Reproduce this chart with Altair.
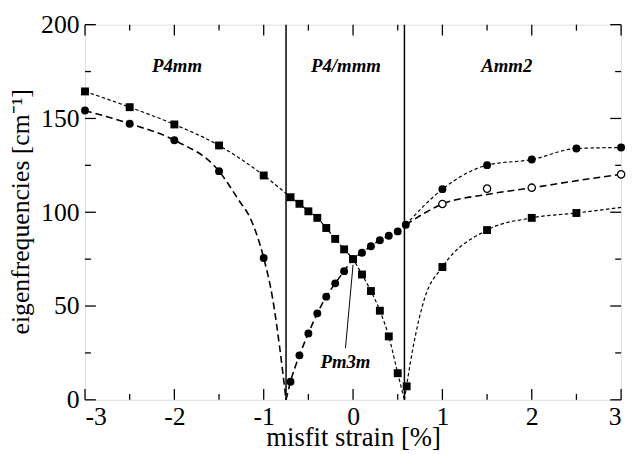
import altair as alt
import pandas as pd

# ---- marker data ----
sq_x = [-3, -2.5, -2, -1.5, -1, -0.7, -0.6, -0.5, -0.4, -0.3, -0.2, -0.1, 0,
        0.1, 0.2, 0.3, 0.4, 0.5, 0.6, 1, 1.5, 2, 2.5]
sq_y = [164.4, 156, 146.8, 135.6, 119.6, 108, 104.5, 100.5, 97, 91.6, 85.8, 80.2, 75,
        66.8, 58, 47.5, 33.8, 14.2, 7.2, 70.8, 90.5, 97, 99.6]
ci_x = [-3, -2.5, -2, -1.5, -1, -0.7, -0.6, -0.5, -0.4, -0.3, -0.2, -0.1, 0,
        0.1, 0.2, 0.3, 0.4, 0.5, 0.59, 1, 1.5, 2, 2.5, 3]
ci_y = [154.2, 147.2, 138.4, 121.9, 75.6, 9.6, 23.7, 35.4, 46.1, 55, 62.1, 68.6, 75,
        78.4, 81.9, 85.1, 87.5, 89.8, 93.3, 112.3, 125.1, 128.1, 134, 134.5]
oc_x = [1, 1.5, 2, 3]
oc_y = [104.4, 112.6, 113.1, 120.2]

# ---- fitted (dashed) curves ----
fineA_x = [-3, -2.5, -2, -1.5, -1, -0.75, -0.7, -0.6, -0.5, -0.4, -0.3, -0.2, -0.1, 0,
           0.1, 0.2, 0.3, 0.4, 0.5, 0.575]
fineA_y = [164.4, 156, 146.8, 135.6, 119.6, 110, 108, 104.5, 100.5, 97, 91.6, 85.8, 80.2, 75,
           66.8, 58, 47.5, 33.8, 14.2, 0]
fineB_x = [0.575, 0.67, 0.8, 1, 1.5, 2, 2.5, 3]
fineB_y = [0, 27.5, 54, 70.8, 90.5, 97, 99.6, 102.6]
fineE_x = [0.59, 1, 1.5, 2, 2.5, 3]
fineE_y = [93.3, 112.3, 125.1, 128.1, 134, 134.5]
longC_x = [-3, -2.5, -2, -1.5, -1.28, -1.15, -1, -0.9, -0.82, -0.75]
longC_y = [154.2, 147.2, 138.4, 121.9, 106.5, 96.8, 75.6, 54, 27.5, 0]
longD_x = [-0.75, -0.7, -0.6, -0.5, -0.4, -0.3, -0.2, -0.1, 0, 0.1, 0.2, 0.3, 0.4, 0.5, 0.59]
longD_y = [0, 9.6, 23.7, 35.4, 46.1, 55, 62.1, 68.6, 75, 78.4, 81.9, 85.1, 87.5, 89.8, 93.3]
longF_x = [0.59, 1, 1.5, 2, 2.5, 3]
longF_y = [93.3, 104.4, 109.5, 113, 116.8, 120.2]

phase_x = [-0.75, 0.575]
region_labels = ["P4mm", "P4/mmm", "Amm2"]
region_x = [-1.97, -0.08, 1.72]
region_y = [175, 175, 175]
pm_label = "Pm3m"
pm_x, pm_y = -0.085, 17
pointer_x, pointer_y, pointer_x2, pointer_y2 = 0, 72, -0.085, 27.5

x_major = [-3, -2, -1, 0, 1, 2, 3]
x_minor = [-2.5, -1.5, -0.5, 0.5, 1.5, 2.5]
y_major = [0, 50, 100, 150, 200]
y_minor = [25, 75, 125, 175]

W, H = 543, 380
FONT = "Liberation Serif"

xs = alt.Scale(domain=[-3, 3], nice=False, zero=False)
ys = alt.Scale(domain=[0, 200], nice=False, zero=False)

x_axis = alt.Axis(values=x_major, ticks=False, domain=False, grid=False,
                  labelFontSize=26, labelPadding=4, labelColor="black", labelFont=FONT,
                  labelExpr="datum.value < 0 ? '-' + abs(datum.value) : '' + datum.value",
                  title="misfit strain [%]", titleFontSize=27, titleFontWeight="normal",
                  titleFont=FONT, titleColor="black", titleY=46, titleBaseline="alphabetic")
y_axis = alt.Axis(values=y_major, ticks=False, domain=False, grid=False,
                  labelFontSize=26, labelPadding=6, labelColor="black", labelFont=FONT,
                  title="eigenfrequencies [cm⁻¹]", titleFontSize=26, titleFontWeight="normal",
                  titleFont=FONT, titleColor="black", titleX=-57, titleY=189,
                  titleBaseline="alphabetic")


def X(field="x"):
    return alt.X(f"{field}:Q", scale=xs, axis=x_axis)


def Y(field="y"):
    return alt.Y(f"{field}:Q", scale=ys, axis=y_axis)


def df(xv, yv):
    return pd.DataFrame({"x": xv, "y": yv})


def curve(xv, yv, dash, width):
    return alt.Chart(df(xv, yv)).mark_line(
        interpolate="monotone", color="black", strokeDash=dash, strokeWidth=width
    ).encode(x=X(), y=Y())


fine = [3.5, 2.5]
long = [7, 4]
layers = [
    curve(fineA_x, fineA_y, fine, 1.2),
    curve(fineB_x, fineB_y, fine, 1.2),
    curve(fineE_x, fineE_y, fine, 1.2),
    curve(longC_x, longC_y, long, 1.6),
    curve(longD_x, longD_y, long, 1.6),
    curve(longF_x, longF_y, long, 1.6),
]

# phase boundaries
layers.append(alt.Chart(pd.DataFrame({"x": phase_x})).mark_rule(color="black", strokeWidth=1.5)
              .encode(x=X(), y=alt.value(0), y2=alt.value(H)))

# Pm3m pointer
layers.append(alt.Chart(pd.DataFrame({"x": [pointer_x], "y": [pointer_y],
                                      "x2": [pointer_x2], "y2": [pointer_y2]}))
              .mark_rule(color="black", strokeWidth=1)
              .encode(x=X(), y=Y(), x2="x2:Q", y2="y2:Q"))

# markers
layers.append(alt.Chart(df(sq_x, sq_y)).mark_point(shape="square", filled=True, color="black",
                                                   size=64, opacity=1).encode(x=X(), y=Y()))
layers.append(alt.Chart(df(ci_x, ci_y)).mark_point(shape="circle", filled=True, color="black",
                                                   size=64, opacity=1).encode(x=X(), y=Y()))
layers.append(alt.Chart(df(oc_x, oc_y)).mark_point(shape="circle", filled=True, fill="white",
                                                   stroke="black", strokeWidth=1.3,
                                                   size=55, opacity=1).encode(x=X(), y=Y()))

# labels
lab_df = pd.DataFrame({"x": region_x, "y": region_y, "t": region_labels})
layers.append(alt.Chart(lab_df).mark_text(font=FONT, fontSize=19, fontWeight="bold",
                                          fontStyle="italic", color="black",
                                          baseline="alphabetic", align="center")
              .encode(x=X(), y=Y(), text="t:N"))
layers.append(alt.Chart(pd.DataFrame({"x": [pm_x], "y": [pm_y], "t": [pm_label]}))
              .mark_text(font=FONT, fontSize=19, fontWeight="bold", fontStyle="italic",
                         color="black", baseline="alphabetic", align="center")
              .encode(x=X(), y=Y(), text="t:N"))

# inward ticks on all four sides
MAJ, MIN = 11, 6
for vals, ln in ((x_major, MAJ), (x_minor, MIN)):
    d = pd.DataFrame({"x": vals})
    layers.append(alt.Chart(d).mark_rule(color="black", strokeWidth=1.3)
                  .encode(x=X(), y=alt.value(H), y2=alt.value(H - ln)))
    layers.append(alt.Chart(d).mark_rule(color="black", strokeWidth=1.3)
                  .encode(x=X(), y=alt.value(0), y2=alt.value(ln)))
for vals, ln in ((y_major, MAJ), (y_minor, MIN)):
    d = pd.DataFrame({"y": vals})
    layers.append(alt.Chart(d).mark_rule(color="black", strokeWidth=1.3)
                  .encode(y=Y(), x=alt.value(0), x2=alt.value(ln)))
    layers.append(alt.Chart(d).mark_rule(color="black", strokeWidth=1.3)
                  .encode(y=Y(), x=alt.value(W), x2=alt.value(W - ln)))

chart = alt.layer(*layers).properties(
    width=W, height=H,
    autosize=alt.AutoSizeParams(type="none"),
    padding={"left": 78, "top": 14, "right": 8, "bottom": 52},
).configure_view(stroke="#111", strokeWidth=2).configure(font=FONT)

chart.save("out.html", embed_options={"renderer": "svg", "actions": False})
